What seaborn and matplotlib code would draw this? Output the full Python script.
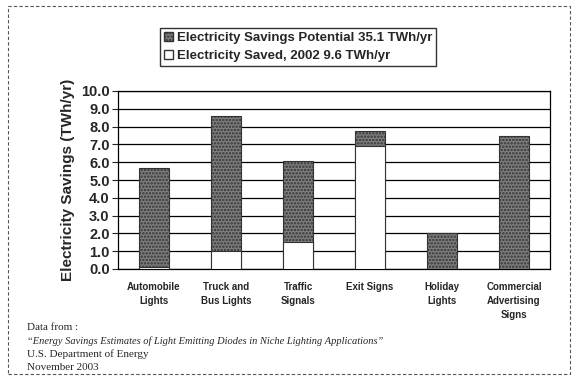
import numpy as np
import pandas as pd
import matplotlib
matplotlib.use('Agg')
import matplotlib.pyplot as plt
import seaborn as sns
from matplotlib.patches import Patch, Rectangle

# ============================================================
# 数据
# ============================================================
categories = ['Automobile\nLights', 'Truck and\nBus Lights', 'Traffic\nSignals',
              'Exit Signs', 'Holiday\nLights', 'Commercial\nAdvertising\nSigns']
total_potential = [5.7, 8.6, 6.05, 7.75, 2.0, 7.5]
saved_2002 = [0.1, 1.0, 1.5, 6.9, 0.0, 0.0]
yticks = np.arange(0, 10.5, 1.0)

df = pd.DataFrame({'category': categories, 'total': total_potential, 'saved': saved_2002})

sns.set_style('white')
plt.rcParams['font.family'] = ['Liberation Sans', 'DejaVu Sans']
plt.rcParams['hatch.linewidth'] = 1.2

fig = plt.figure(figsize=(5.76, 3.78), dpi=100)
ax = fig.add_axes([118 / 576, 1 - 269 / 378, (550 - 118) / 576, (269 - 91) / 378])

# 潜力 (灰色, 点状纹理)
sns.barplot(data=df, x='category', y='total', ax=ax, color='#7f7f7f', width=0.42,
            edgecolor='#333333', linewidth=0.8, saturation=1, hatch='.....', zorder=3)
# 已节约 (白色)
sns.barplot(data=df, x='category', y='saved', ax=ax, color='white', width=0.42,
            edgecolor='#333333', linewidth=0.8, saturation=1, zorder=4)

ax.set_ylim(0, 10)
ax.set_yticks(yticks)
ax.set_yticklabels([f'{v:.1f}' for v in yticks], fontsize=10.5, fontweight='bold')
ax.yaxis.grid(True, color='black', linewidth=0.9, zorder=0)
ax.set_axisbelow(True)
ax.set_xlim(-0.5, len(categories) - 0.5)
ax.set_xticks(np.arange(len(categories)))
ax.set_xticklabels(categories, fontsize=7, fontweight='bold', linespacing=1.5)
ax.tick_params(axis='x', length=0, pad=9)
ax.set_xticks(np.arange(len(categories) + 1) - 0.5, minor=True)
ax.tick_params(axis='x', which='minor', length=4, width=0.8, direction='out')
ax.tick_params(axis='y', length=4, width=0.8, direction='out', left=True, pad=2)
ax.set_xlabel('')
ax.set_ylabel('Electricity Savings (TWh/yr)', fontsize=11, fontweight='bold', labelpad=4)
for s in ax.spines.values():
    s.set_color('black')
    s.set_linewidth(0.9)

# 图例
handles = [Patch(facecolor='#7f7f7f', edgecolor='#333333', hatch='.....',
                 label='Electricity Savings Potential 35.1 TWh/yr'),
           Patch(facecolor='white', edgecolor='#333333', label='Electricity Saved, 2002 9.6 TWh/yr')]
leg = fig.legend(handles=handles, loc='upper left', bbox_to_anchor=(160 / 576, 1 - 28 / 378),
                 prop={'weight': 'bold', 'size': 9.5}, frameon=True, fancybox=False,
                 handlelength=0.7, handleheight=0.7, handletextpad=0.3, borderpad=0.3,
                 labelspacing=0.45, borderaxespad=0)
leg.get_frame().set_edgecolor('black')
leg.get_frame().set_linewidth(1.0)

# 数据来源注释
fig.text(27 / 576, 1 - 327 / 378, 'Data from :', family='Liberation Serif', fontsize=8, va='center')
fig.text(27 / 576, 1 - 341 / 378,
         '\u201cEnergy Savings Estimates of Light Emitting Diodes in Niche Lighting Applications\u201d',
         family='Liberation Serif', style='italic', fontsize=7.5, va='center')
fig.text(27 / 576, 1 - 354 / 378, 'U.S. Department of Energy', family='Liberation Serif',
         fontsize=8, va='center')
fig.text(27 / 576, 1 - 367 / 378, 'November 2003', family='Liberation Serif', fontsize=8, va='center')

# 外框 (虚线)
fig.patches.append(Rectangle((8 / 576, 4 / 378), 562 / 576, 368 / 378, transform=fig.transFigure,
                             fill=False, edgecolor='#555555', linewidth=0.8, linestyle=(0, (3, 2))))

plt.savefig('out.png', dpi=100)
plt.close()
